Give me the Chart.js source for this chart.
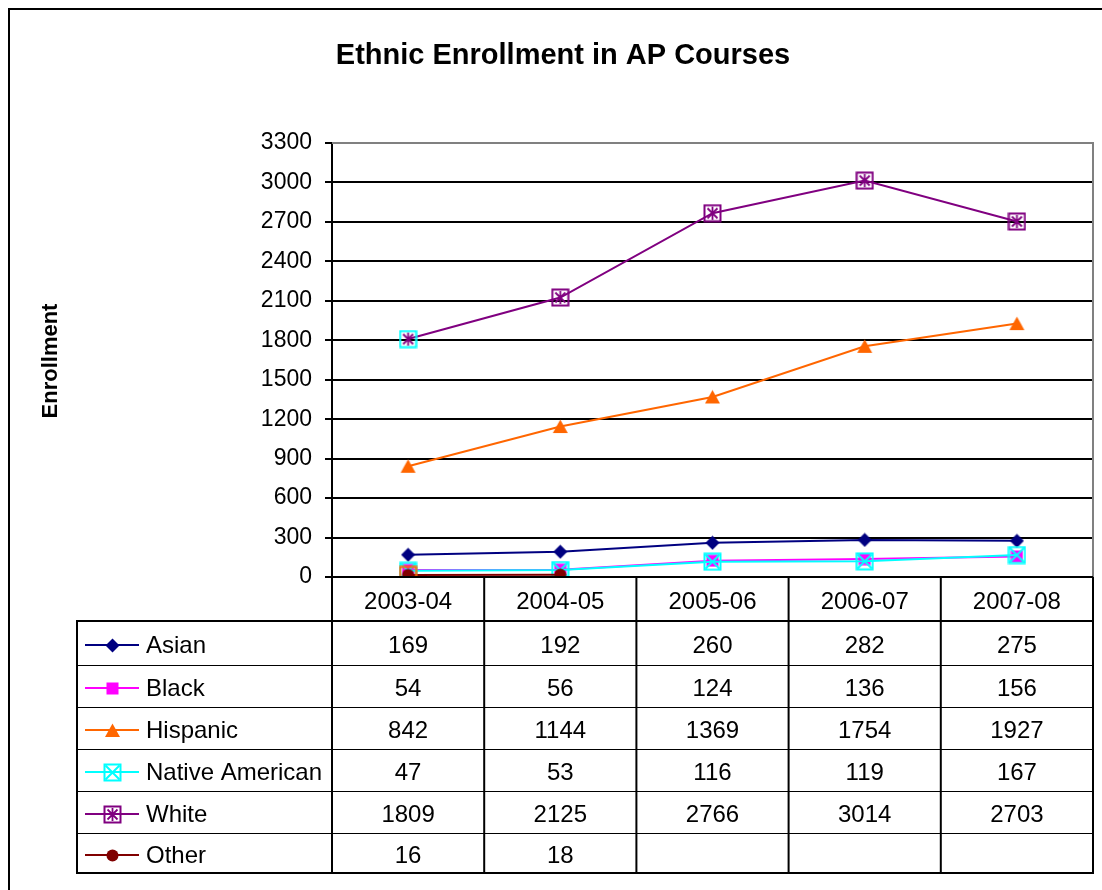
<!DOCTYPE html>
<html>
<head>
<meta charset="utf-8">
<script src="https://cdn.jsdelivr.net/npm/chart.js@4/dist/chart.umd.min.js"></script>
<style>
html,body{margin:0;padding:0;background:#fff;}
#wrap{width:1102px;height:890px;position:relative;}
</style>
</head>
<body>
<div id="wrap"><canvas id="c" width="1102" height="890"></canvas></div>
<script>
// ---- data ----
const categories = ['2003-04', '2004-05', '2005-06', '2006-07', '2007-08'];
const seriesNames = ['Asian', 'Black', 'Hispanic', 'Native American', 'White', 'Other'];
const asian = [169, 192, 260, 282, 275];
const black = [54, 56, 124, 136, 156];
const hispanic = [842, 1144, 1369, 1754, 1927];
const nativeAm = [47, 53, 116, 119, 167];
const white = [1809, 2125, 2766, 3014, 2703];
const other = [16, 18, null, null, null];
const yTicks = [0, 300, 600, 900, 1200, 1500, 1800, 2100, 2400, 2700, 3000, 3300];

const FONT = "'Liberation Sans', Arial, sans-serif";
const colors = {
  Asian: '#000080', Black: '#FF00FF', Hispanic: '#FF6600',
  'Native American': '#00FFFF', White: '#800080', Other: '#800000'
};

// ---- marker images ----
function mk(size, fn) {
  const c = document.createElement('canvas');
  c.width = size; c.height = size;
  const g = c.getContext('2d');
  fn(g, size);
  return c;
}
const mDiamond = mk(15, (g) => {
  g.fillStyle = colors.Asian; g.beginPath();
  g.moveTo(7.5, 0.5); g.lineTo(14.5, 7.5); g.lineTo(7.5, 14.5); g.lineTo(0.5, 7.5); g.closePath(); g.fill();
});
const mSquare = mk(13, (g) => { g.fillStyle = colors.Black; g.fillRect(0.5, 0.5, 12, 12); });
const mTriangle = mk(17, (g) => {
  g.fillStyle = colors.Hispanic; g.beginPath();
  g.moveTo(8.5, 1.5); g.lineTo(16, 15); g.lineTo(1, 15); g.closePath(); g.fill();
});
function boxX(col) {
  return mk(19, (g) => {
    g.strokeStyle = col; g.lineWidth = 2;
    g.strokeRect(1.5, 1.5, 16, 16);
    g.beginPath(); g.moveTo(2.5, 2.5); g.lineTo(16.5, 16.5); g.moveTo(16.5, 2.5); g.lineTo(2.5, 16.5); g.stroke();
  });
}
function boxStar(boxCol, starCol) {
  return mk(19, (g) => {
    g.strokeStyle = boxCol; g.lineWidth = 2;
    g.strokeRect(1.5, 1.5, 16, 16);
    g.strokeStyle = starCol; g.lineWidth = 1.8;
    g.beginPath();
    g.moveTo(9.5, 3); g.lineTo(9.5, 16);
    g.moveTo(4.5, 4.5); g.lineTo(14.5, 14.5);
    g.moveTo(14.5, 4.5); g.lineTo(4.5, 14.5);
    g.stroke();
  });
}
const mNative = boxX(colors['Native American']);
const mWhite = boxStar(colors.White, colors.White);
const mWhiteCyan = boxStar('#00FFFF', colors.White);
const mCircle = mk(13, (g) => {
  g.fillStyle = colors.Other; g.beginPath(); g.arc(6.5, 6.5, 6, 0, Math.PI * 2); g.fill();
});
const mCircleOrange = mk(19, (g) => {
  g.strokeStyle = colors.Hispanic; g.lineWidth = 2; g.strokeRect(1.5, 1.5, 16, 16);
  g.fillStyle = colors.Other; g.beginPath(); g.arc(9.5, 9.5, 6, 0, Math.PI * 2); g.fill();
});

const legendMarkers = [mDiamond, mSquare, mTriangle, mNative, mWhite, mCircle];
const seriesData = [asian, black, hispanic, nativeAm, white, other];

function ds(label, data, style, order) {
  return {
    label, data, order,
    borderColor: colors[label], backgroundColor: colors[label],
    borderWidth: 2, pointStyle: style, pointRadius: 7, pointHoverRadius: 7,
    tension: 0, spanGaps: false, fill: false
  };
}

const tablePlugin = {
  id: 'excelTable',
  afterDraw(chart) {
    const ctx = chart.ctx, ca = chart.chartArea, xs = chart.scales.x;
    ctx.save();
    // plot frame (top/right gray)
    ctx.strokeStyle = '#808080'; ctx.lineWidth = 2;
    ctx.beginPath(); ctx.moveTo(ca.left, ca.top); ctx.lineTo(ca.right, ca.top); ctx.lineTo(ca.right, ca.bottom); ctx.stroke();

    // title
    ctx.fillStyle = '#000';
    ctx.font = 'bold 29px ' + FONT;
    ctx.textAlign = 'center'; ctx.textBaseline = 'middle';
    ctx.fillText('Ethnic Enrollment in AP Courses', 563, 56);
    // y title
    ctx.save();
    ctx.translate(51, 361); ctx.rotate(-Math.PI / 2);
    ctx.font = 'bold 22px ' + FONT;
    ctx.fillText('Enrollment', 0, 0);
    ctx.restore();

    // outer chart border
    ctx.strokeStyle = '#000'; ctx.lineWidth = 2;
    ctx.beginPath(); ctx.moveTo(9, 900); ctx.lineTo(9, 9); ctx.lineTo(1110, 9); ctx.stroke();

    // table
    const tLeft = 77, tRight = ca.right;
    const headTop = ca.bottom, headBot = 621;
    const rows = [621, 665, 707, 749, 791, 833, 873];
    const n = categories.length;
    const colW = (ca.right - ca.left) / n;
    ctx.strokeStyle = '#000';
    ctx.lineWidth = 1;
    for (let i = 1; i < rows.length - 1; i++) {
      ctx.beginPath(); ctx.moveTo(tLeft, rows[i] + 0.5); ctx.lineTo(tRight, rows[i] + 0.5); ctx.stroke();
    }
    ctx.lineWidth = 2;
    ctx.beginPath(); ctx.moveTo(ca.left, headTop); ctx.lineTo(tRight, headTop); ctx.stroke();
    ctx.beginPath(); ctx.moveTo(tLeft, headBot); ctx.lineTo(tRight, headBot); ctx.stroke();
    ctx.beginPath(); ctx.moveTo(tLeft, rows[rows.length - 1]); ctx.lineTo(tRight + 1, rows[rows.length - 1]); ctx.stroke();
    ctx.beginPath(); ctx.moveTo(tLeft, headBot - 1); ctx.lineTo(tLeft, rows[rows.length - 1] + 1); ctx.stroke();
    for (let i = 0; i <= n; i++) {
      const x = ca.left + i * colW;
      ctx.beginPath(); ctx.moveTo(x, headTop); ctx.lineTo(x, rows[rows.length - 1]); ctx.stroke();
    }
    // header labels
    ctx.fillStyle = '#000';
    ctx.font = '24px ' + FONT;
    ctx.textAlign = 'center'; ctx.textBaseline = 'middle';
    categories.forEach((c, i) => ctx.fillText(c, xs.getPixelForValue(i), (headTop + headBot) / 2 + 3));
    // rows
    seriesNames.forEach((name, r) => {
      const cy = (rows[r] + rows[r + 1]) / 2 + 3;
      const ly = cy - 1;
      ctx.strokeStyle = colors[name]; ctx.lineWidth = 2;
      ctx.beginPath(); ctx.moveTo(85, ly); ctx.lineTo(139, ly); ctx.stroke();
      const img = legendMarkers[r];
      ctx.drawImage(img, Math.round(112 - img.width / 2), Math.round(ly - img.height / 2));
      ctx.fillStyle = '#000';
      ctx.textAlign = 'left';
      ctx.fillText(name, 146, cy);
      ctx.textAlign = 'center';
      seriesData[r].forEach((v, i) => {
        if (v !== null && v !== undefined) ctx.fillText(String(v), xs.getPixelForValue(i), cy);
      });
    });
    ctx.restore();
  }
};

const chart = new Chart(document.getElementById('c'), {
  type: 'line',
  data: {
    labels: categories,
    datasets: [
      ds('Asian', asian, mDiamond, 5),
      ds('Black', black, mSquare, 3),
      ds('Hispanic', hispanic, mTriangle, 4),
      ds('Native American', nativeAm, mNative, 2),
      ds('White', white, [mWhiteCyan, mWhite, mWhite, mWhite, mWhite], 0),
      ds('Other', other, [mCircleOrange, mCircle, mCircle, mCircle, mCircle], 1)
    ]
  },
  options: {
    responsive: false,
    animation: false,
    devicePixelRatio: 1,
    layout: { padding: { left: 0, top: 143, right: 8, bottom: 313 } },
    plugins: { legend: { display: false }, title: { display: false }, tooltip: { enabled: false } },
    scales: {
      x: { type: 'category', offset: true, display: false, grid: { display: false } },
      y: {
        min: 0, max: 3300,
        afterBuildTicks: (s) => { s.ticks = yTicks.map(v => ({ value: v })); },
        afterFit: (s) => { s.width = 332; },
        ticks: { color: '#000', font: { family: FONT, size: 23 }, padding: 13, stepSize: 300,
                 callback: (v) => String(v) },
        grid: { color: '#000', lineWidth: 2, tickLength: 7, drawTicks: true },
        border: { color: '#000', width: 2 }
      }
    }
  },
  plugins: [tablePlugin]
});
</script>
</body>
</html>
